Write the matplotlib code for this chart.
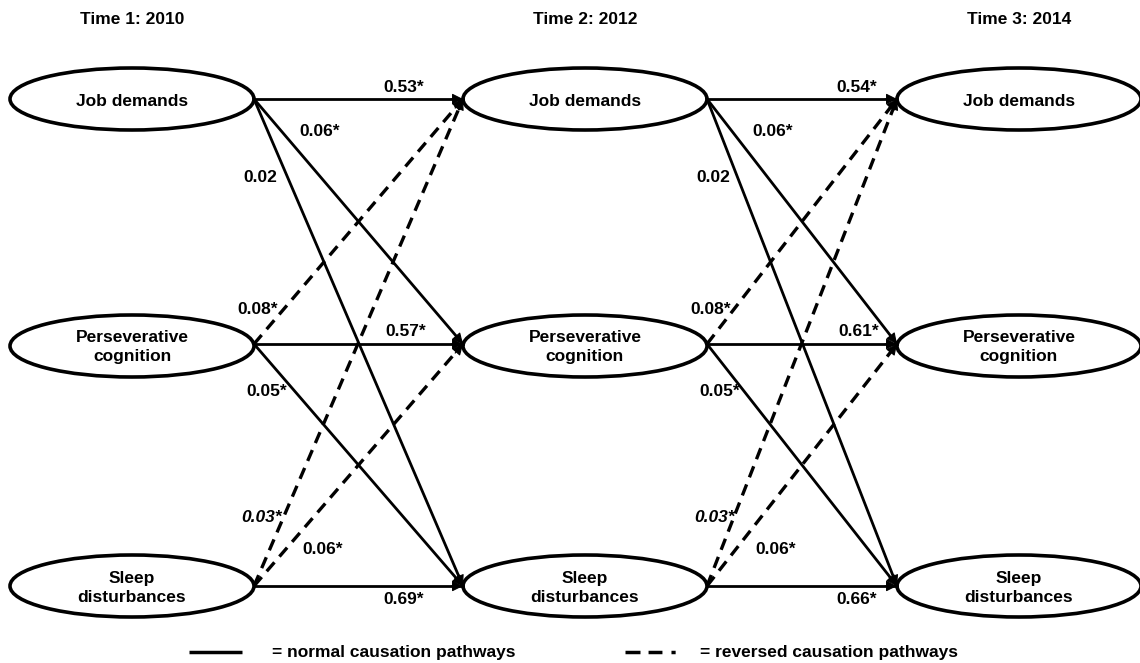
import numpy as np
import matplotlib
matplotlib.use('Agg')
import matplotlib.pyplot as plt
from matplotlib.patches import Ellipse

plt.rcParams['font.family'] = ['Liberation Sans', 'DejaVu Sans']
plt.rcParams['lines.scale_dashes'] = False

###########################################################################################
# data

waves = ['Time 1: 2010', 'Time 2: 2012', 'Time 3: 2014']
constructs = ['Job demands', 'Perseverative\ncognition', 'Sleep\ndisturbances']

# every cross-lagged path: from construct (index) to construct (index)
path_from = [0, 0, 0, 1, 1, 1, 2, 2, 2]
path_to = [0, 1, 2, 0, 1, 2, 0, 1, 2]

# standardized coefficients, wave 1 -> 2 and wave 2 -> 3
coef_t1_t2 = ['0.53*', '0.06*', '0.02', '0.08*', '0.57*', '0.05*', '0.03*', '0.06*', '0.69*']
coef_t2_t3 = ['0.54*', '0.06*', '0.02', '0.08*', '0.61*', '0.05*', '0.03*', '0.06*', '0.66*']
coef_italic = [False, False, False, False, False, False, True, False, False]

###########################################################################################
# layout (pixels)

col_x = [132, 585, 1019]
row_y = [99, 344, 586]
ell_w, ell_h = 244, 62
# label position relative to the right tip of the source ellipse
label_dx = [150, 66, 6, 4, 152, 13, 8, 69, 150]
label_dy = [-11, 33, 78, -34, -12, 48, -68, -36, 14]

fs = 12.5

fig = plt.figure(figsize=(11.4, 6.63), dpi=100)
ax = fig.add_axes([0, 0, 1, 1])
ax.set_xlim(0, 1140)
ax.set_ylim(663, 0)
ax.axis('off')

# headers and ellipses
for c, wave in enumerate(waves):
    ax.text(col_x[c], 20, wave, ha='center', va='center', fontsize=fs, fontweight='bold')
    for r, name in enumerate(constructs):
        ax.add_patch(Ellipse((col_x[c], row_y[r] + (2 if r == 1 else 0)), ell_w, ell_h,
                             fill=False, ec='black', lw=2.6, clip_on=False))
        ax.text(col_x[c], row_y[r] + (3 if r == 1 else 2), name, ha='center', va='center',
                fontsize=fs, fontweight='bold', linespacing=1.3)

def draw_path(x0, y0, x1, y1, reversed_path):
    if reversed_path:
        ax.plot([x0, x1], [y0, y1], color='black', lw=2.4, linestyle=(0, (8.5, 5.5)),
                solid_capstyle='butt', dash_capstyle='butt')
    else:
        ax.plot([x0, x1], [y0, y1], color='black', lw=2.0)
    d = np.array([x1 - x0, y1 - y0], dtype=float)
    d = d / np.hypot(*d)
    ax.annotate('', xy=(x1, y1), xytext=(x1 - 12 * d[0], y1 - 12 * d[1]),
                arrowprops=dict(arrowstyle='-|>,head_length=0.6,head_width=0.3',
                                color='black', lw=0.8,
                                mutation_scale=11, shrinkA=0, shrinkB=0))

for step, coefs in enumerate([coef_t1_t2, coef_t2_t3]):
    src_tip = col_x[step] + ell_w / 2
    tgt_tip = col_x[step + 1] - ell_w / 2
    for i in range(len(path_from)):
        a, b = path_from[i], path_to[i]
        draw_path(src_tip, row_y[a], tgt_tip, row_y[b], a > b)
        ax.text(src_tip + label_dx[i], row_y[a] + label_dy[i], coefs[i],
                ha='center', va='center', fontsize=fs, fontweight='bold',
                fontstyle='italic' if coef_italic[i] else 'normal')

# legend
ax.plot([189, 242], [652, 652], color='black', lw=2.5, solid_capstyle='butt')
ax.text(272, 652, '= normal causation pathways', ha='left', va='center',
        fontsize=fs, fontweight='bold')
ax.plot([625, 676], [652, 652], color='black', lw=2.5,
        linestyle=(0, (10.8, 5.8, 10, 6.5, 3, 100)), dash_capstyle='butt')
ax.text(700, 652, '= reversed causation pathways', ha='left', va='center',
        fontsize=fs, fontweight='bold')

plt.savefig('out.png', dpi=100)
